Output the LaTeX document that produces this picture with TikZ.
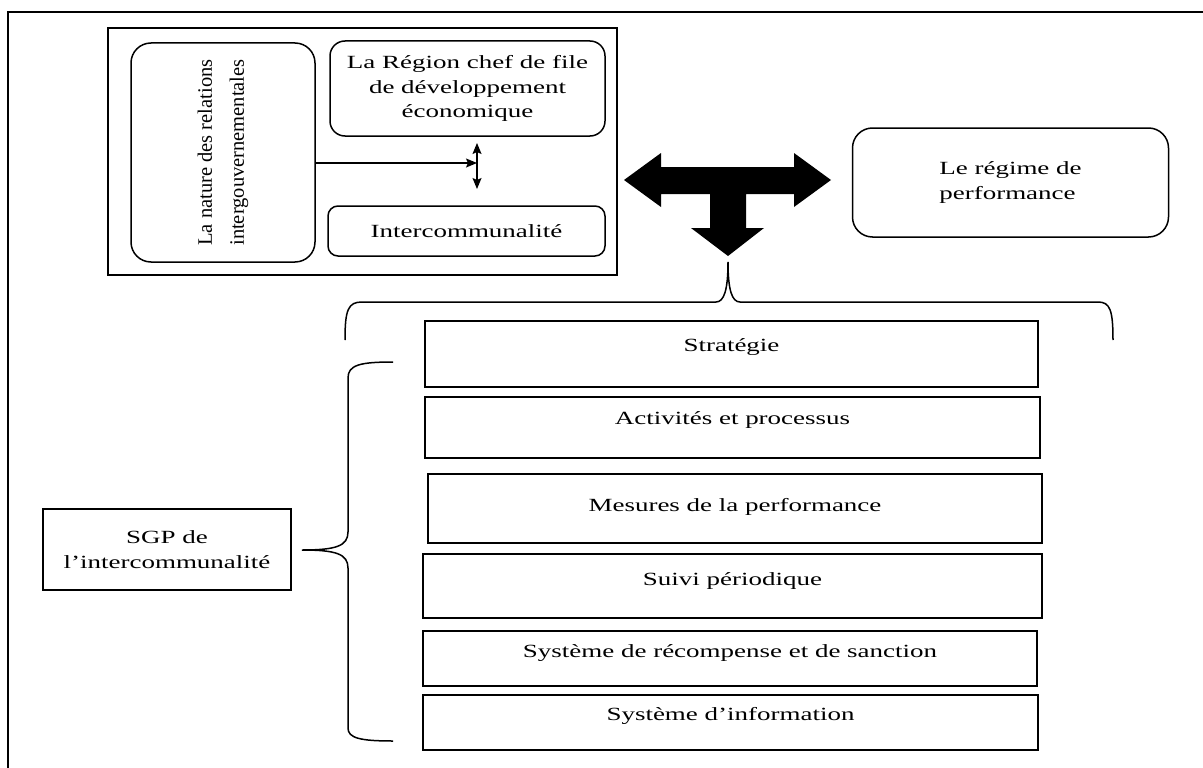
\documentclass[tikz,border=0pt]{standalone}
\usepackage{fontspec}
\setmainfont{Liberation Serif}[FakeStretch=1.45]
\newfontfamily\uprightserif{Liberation Serif}
\usetikzlibrary{arrows.meta}

\begin{document}
\begin{tikzpicture}[x=1pt,y=-1pt,>={Stealth[length=11pt,width=9pt,inset=2pt]},line width=1.5pt]

  \tikzstyle{plainbox}=[rectangle,draw,inner sep=0pt,align=center,font=\fontsize{18.6}{24.5}\selectfont]
  \tikzstyle{roundbox}=[plainbox,rounded corners=15pt]
  \tikzstyle{layer}=[plainbox,text height=12pt]

  \path [use as bounding box,fill=white] (0,0) rectangle (1203,768);
  \draw (8,768) -- (8,12) -- (1203,12);

  % cadre du haut
  \node [plainbox,minimum width=509,minimum height=247] (ctx) at (362.5,151.5) {};
  \node [roundbox,rounded corners=20pt,minimum width=184,minimum height=219] (nat) at (223,152.5) {};
  \node [rotate=90,align=center,font=\uprightserif\fontsize{20.5}{32}\selectfont] (nattext) at (nat) {La nature des relations\\intergouvernementales};
  \node [roundbox,minimum width=275,minimum height=95] (reg) at (467.5,88.5) {La Région chef de file\\de développement\\économique};
  \node [roundbox,rounded corners=10pt,minimum width=277,minimum height=50] (inter) at (466.5,231) {Intercommunalité};

  \coordinate (hub) at (477,163);
  \coordinate (hubtop) at (477,143);
  \coordinate (hubbot) at (477,189);
  \draw [->,line width=1.3pt] (nat.east |- hub) -- (hub);
  \draw [<->,line width=1.3pt] (hubtop) -- (hubbot);

  \node [roundbox,rounded corners=20pt,align=left,minimum width=316,minimum height=109] (regime) at (1010.5,182.5) {Le régime de\\performance};

  % fleche en T
  \fill (624,180) -- (661,153) -- (661,167) -- (794,167) -- (794,153) -- (831,180)
    -- (794,207) -- (794,194) -- (746,194) -- (746,228) -- (764,228) -- (728,256)
    -- (691,228) -- (710,228) -- (710,194) -- (661,194) -- (661,207) -- cycle;

  % accolades
  \draw (345,340) .. controls (345,310) and (348,302) .. (362,302) -- (716,302)
    .. controls (724,302) and (728,290) .. (728,262)
    .. controls (728,290) and (732,302) .. (740,302) -- (1098,302)
    .. controls (1110,302) and (1113,310) .. (1113,340);
  \draw (393,362) .. controls (360,362) and (348,365) .. (348,378) -- (348,532)
    .. controls (348,546) and (336,550) .. (302,550)
    .. controls (336,550) and (348,554) .. (348,568) -- (348,728)
    .. controls (348,738) and (360,741) .. (393,741);

  % SGP
  \node [plainbox,minimum width=248,minimum height=81] (sgp) at (167,549.5) {SGP de\\l’intercommunalité};

  \node [layer,minimum width=613,minimum height=66,text depth=18pt] (l1) at (731.5,354)   {Stratégie};
  \node [layer,minimum width=615,minimum height=61,text depth=19pt] (l2) at (732.5,427.5) {Activités et processus};
  \node [layer,minimum width=614,minimum height=69,text depth=7pt]  (l3) at (735,508.5)   {Mesures de la performance};
  \node [layer,minimum width=619,minimum height=64,text depth=14pt] (l4) at (732.5,586)   {Suivi périodique};
  \node [layer,minimum width=614,minimum height=55,text depth=15pt] (l5) at (730,658.5)   {Système de récompense et de sanction};
  \node [layer,minimum width=615,minimum height=55,text depth=17pt] (l6) at (730.5,722.5) {Système d’information};

\end{tikzpicture}
\end{document}
